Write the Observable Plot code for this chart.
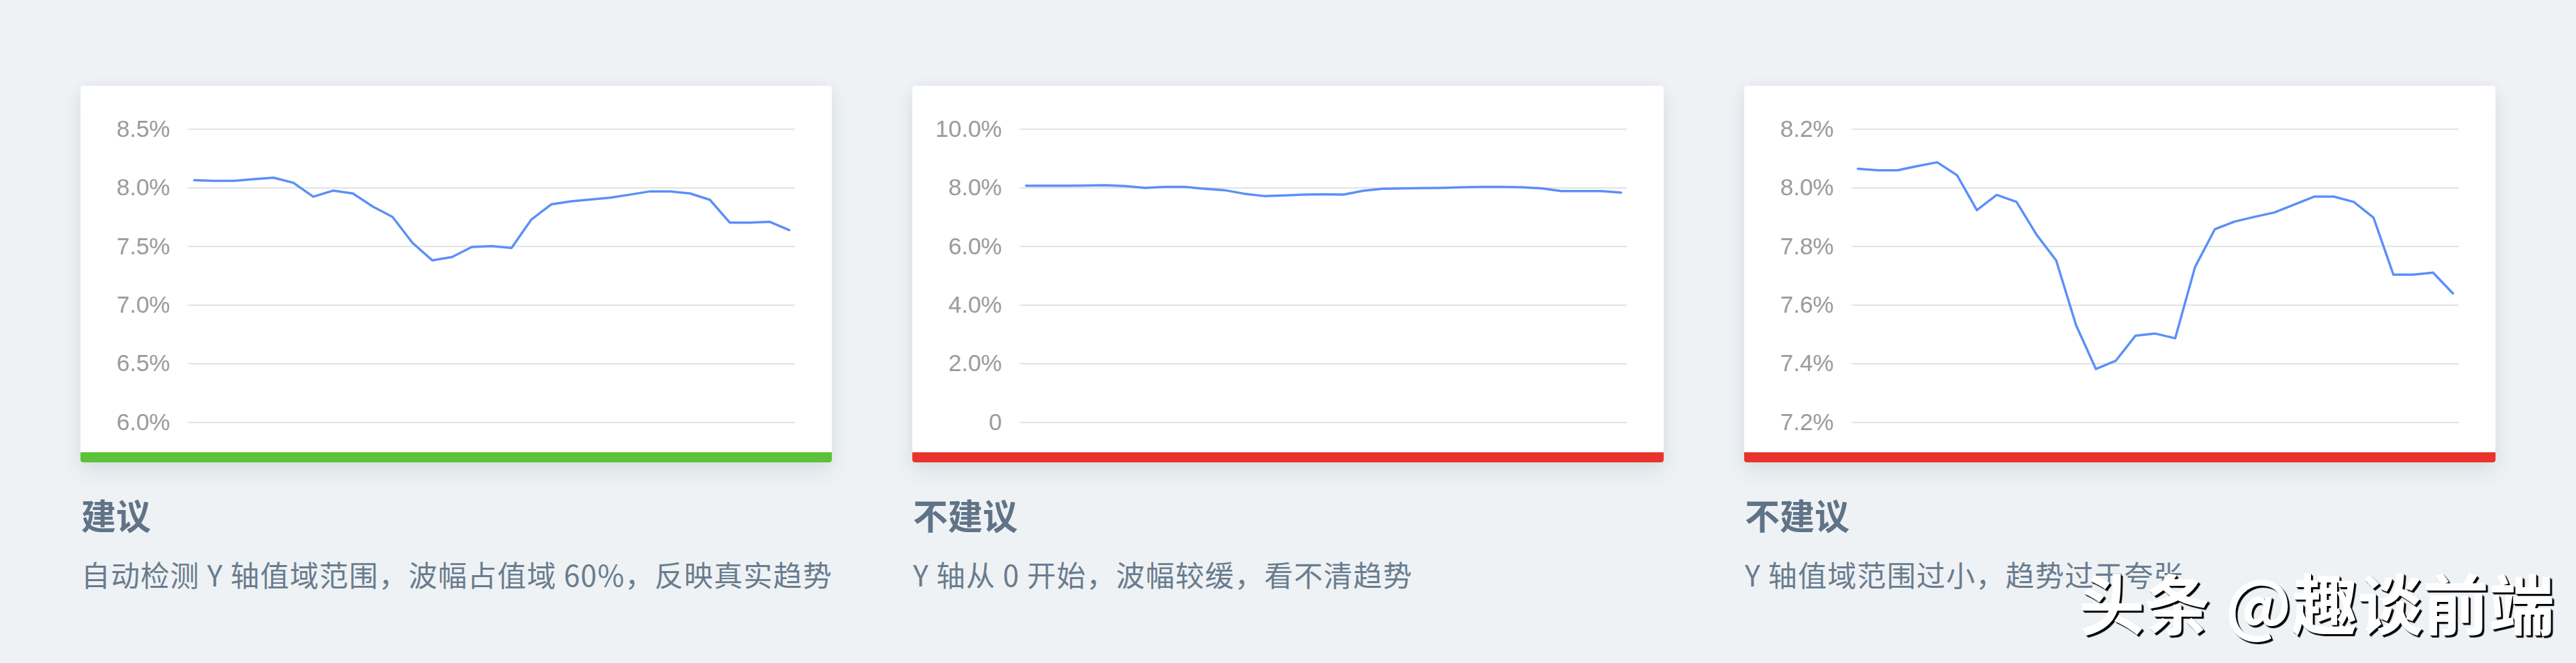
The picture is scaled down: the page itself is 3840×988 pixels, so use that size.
<!DOCTYPE html>
<html>
<head>
<meta charset="utf-8">
<script src="https://cdn.jsdelivr.net/npm/d3@7"></script>
<script src="https://cdn.jsdelivr.net/npm/@observablehq/plot@0.6"></script>
<style>
  html, body { margin: 0; padding: 0; }
  body { width: 3840px; height: 988px; background: #eef2f5; position: relative; overflow: hidden;
         font-family: "Noto Sans CJK SC", "Noto Sans", sans-serif; }
  .card { position: absolute; top: 128px; width: 1120px; height: 561px; background: #fff;
          border-radius: 4px; overflow: hidden;
          box-shadow: 0 14px 32px rgba(30, 50, 70, 0.09), 0 0 18px rgba(30, 50, 70, 0.04); }
  .card svg { position: absolute; left: 0; top: 0; }
  .bar { position: absolute; left: 0; bottom: 0; width: 100%; height: 15px; }
  .title { position: absolute; top: 741px; font-size: 52px; line-height: 1; font-weight: 700; color: #617386; white-space: nowrap; }
  .desc { position: absolute; top: 834px; font-size: 43px; letter-spacing: 1.2px; line-height: 1; color: #6a7c8e; white-space: nowrap; }
  .wm { position: absolute; left: 3099px; top: 846px; font-size: 98px; line-height: 1; font-weight: 700; color: #fff;
        white-space: nowrap; text-shadow: 3px 3px 1px #000, 1px 1px 0 #000; }
</style>
</head>
<body>
<script>
// x categories: days of the month
const days = [1,2,3,4,5,6,7,8,9,10,11,12,13,14,15,16,17,18,19,20,21,22,23,24,25,26,27,28,29,30,31];

const rate = [8.065,8.060,8.060,8.074,8.087,8.043,7.924,7.976,7.952,7.841,7.752,7.532,7.382,7.410,7.496,7.503,7.487,7.730,7.859,7.885,7.901,7.916,7.943,7.970,7.970,7.952,7.898,7.704,7.704,7.711,7.640];

const rateZero = [8.07,8.07,8.07,8.08,8.09,8.06,8.00,8.03,8.03,7.97,7.92,7.80,7.72,7.74,7.77,7.78,7.77,7.90,7.97,7.98,7.99,8.00,8.02,8.03,8.03,8.02,7.98,7.89,7.89,7.89,7.84];

// tick values
const ticks1 = [6.0, 6.5, 7.0, 7.5, 8.0, 8.5];
const ticks2 = [0, 2, 4, 6, 8, 10];
const ticks3 = [7.2, 7.4, 7.6, 7.8, 8.0, 8.2];

const titles = ["建议", "不建议", "不建议"];
const descs = [
  "自动检测 Y 轴值域范围，波幅占值域 60%，反映真实趋势",
  "Y 轴从 0 开始，波幅较缓，看不清趋势",
  "Y 轴值域范围过小，趋势过于夸张"
];
const barColors = ["#5cc23a", "#e8352b", "#e8352b"];

const pct = d => d === 0 ? "0" : d.toFixed(1) + "%";

const configs = [
  {values: rate, ticks: ticks1, domain: [6.0, 8.5]},
  {values: rateZero, ticks: ticks2, domain: [0, 10]},
  {values: rate, ticks: ticks3, domain: [7.2, 8.2]}
];

configs.forEach((cfg, k) => {
  const left = 120 + k * 1240;
  const card = document.createElement("div");
  card.className = "card";
  card.style.left = left + "px";
  document.body.appendChild(card);

  const data = days.map((d, i) => ({day: d, v: cfg.values[i]}));
  const chart = Plot.plot({
    width: 1120,
    height: 545,
    marginLeft: 160,
    marginRight: 55,
    marginTop: 64,
    marginBottom: 44,
    style: {background: "transparent", color: "#9b9b9b", overflow: "visible"},
    x: {type: "linear", domain: [days[0], days[days.length - 1]], insetLeft: 9, insetRight: 9, axis: null},
    y: {domain: cfg.domain, label: null},
    marks: [
      Plot.ruleY(cfg.ticks, {stroke: "#e2e2e2", strokeWidth: 2}),
      Plot.axisY(cfg.ticks, {tickSize: 0, tickPadding: 27, fontSize: 35, tickFormat: pct, label: null,
        fontFamily: "'Liberation Sans', Arial, Helvetica, sans-serif", fill: "#9b9b9b"}),
      Plot.line(data, {x: "day", y: "v", stroke: "#5b8ff9", strokeWidth: 3.5, strokeLinejoin: "round"})
    ]
  });
  card.appendChild(chart);

  const bar = document.createElement("div");
  bar.className = "bar";
  bar.style.background = barColors[k];
  card.appendChild(bar);

  const t = document.createElement("div");
  t.className = "title";
  t.style.left = (left + 1) + "px";
  t.textContent = titles[k];
  document.body.appendChild(t);

  const ds = document.createElement("div");
  ds.className = "desc";
  ds.style.left = (left + 1) + "px";
  ds.textContent = descs[k];
  document.body.appendChild(ds);
});

const wm = document.createElement("div");
wm.className = "wm";
wm.textContent = "头条 @趣谈前端";
document.body.appendChild(wm);
</script>
</body>
</html>
